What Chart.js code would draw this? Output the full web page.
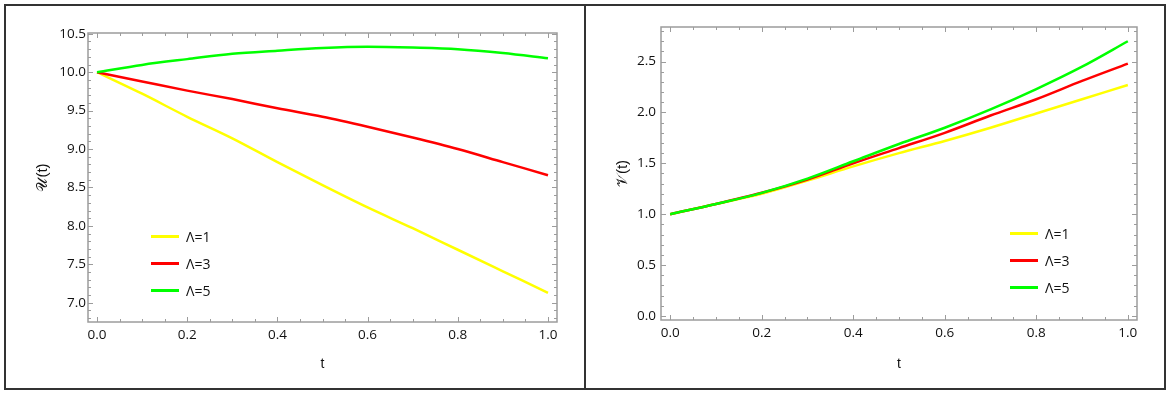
<!DOCTYPE html>
<html lang="en">

<head>
    <meta charset="UTF-8">
    <title>U(t) and V(t) for different Lambda</title>
    <script src="https://cdn.jsdelivr.net/npm/chart.js"></script>
    <style>
        body { margin: 0; background: #fff; font-family: "Open Sans", sans-serif; }
        #page { position: relative; width: 1170px; height: 395px; }
        #box { position: absolute; left: 4px; top: 4px; width: 1162px; height: 386px; border: 2px solid #333; box-sizing: border-box; }
        #divider { position: absolute; left: 584px; top: 4px; width: 2px; height: 386px; background: #333; }
        .panel { position: absolute; top: 6px; width: 578px; height: 382px; }
        .legend { position: absolute; font-size: 14px; color: #111; }
        .legend .row { display: flex; align-items: center; height: 27px; }
        .legend .swatch { width: 28px; height: 3px; margin-right: 7px; }
    </style>
</head>

<body>
    <div id="page">
        <div id="box"></div>
        <div id="divider"></div>
        <div class="panel" style="left:6px"><canvas id="chartU"></canvas></div>
        <div class="panel" style="left:586px"><canvas id="chartV"></canvas></div>
        <div class="legend" id="legendU" style="left:151px; top:223px"></div>
        <div class="legend" id="legendV" style="left:1010px; top:220px"></div>
    </div>

    <script>
        // time samples
        const tValues = [0, 0.1, 0.2, 0.3, 0.4, 0.5, 0.6, 0.7, 0.8, 0.9, 1.0];

        // U(t) for Lambda = 1, 3, 5
        const u1 = [10.0, 9.72, 9.42, 9.14, 8.83, 8.53, 8.24, 7.97, 7.69, 7.41, 7.13];
        const u3 = [10.0, 9.88, 9.76, 9.65, 9.53, 9.42, 9.29, 9.15, 9.00, 8.83, 8.66];
        const u5 = [10.0, 10.095, 10.17, 10.24, 10.28, 10.315, 10.33, 10.32, 10.30, 10.25, 10.18];

        // V(t) for Lambda = 1, 3, 5
        const v1 = [1.0, 1.10, 1.20, 1.33, 1.47, 1.60, 1.72, 1.85, 1.99, 2.13, 2.27];
        const v3 = [1.0, 1.10, 1.21, 1.34, 1.50, 1.65, 1.80, 1.97, 2.13, 2.31, 2.48];
        const v5 = [1.0, 1.10, 1.21, 1.35, 1.52, 1.69, 1.85, 2.03, 2.23, 2.45, 2.70];

        const lambdaLabels = ['Λ=1', 'Λ=3', 'Λ=5'];
        const lineColors = ['#ffff00', '#ff0000', '#00ff00'];

        // tick labels
        const tTicks = [0, 0.2, 0.4, 0.6, 0.8, 1.0];
        const uTicks = [7.0, 7.5, 8.0, 8.5, 9.0, 9.5, 10.0, 10.5];
        const vTicks = [0, 0.5, 1.0, 1.5, 2.0, 2.5];

        const tickFont = { family: '"Open Sans", sans-serif', size: 13.5 };

        function stepsIn(min, max, step) {
            const out = [];
            let i = Math.ceil(min / step - 1e-9);
            while (i * step <= max + 1e-9) {
                out.push(i * step);
                i++;
            }
            return out;
        }

        // Mathematica-like frame with inward ticks on all four sides
        const framePlugin = {
            id: 'frame',
            beforeDatasetsDraw(chart) {
                const { ctx, chartArea: a, scales } = chart;
                const xs = scales.x, ys = scales.y;
                const isMajor = (scale, v) => scale.ticks.some(t => Math.abs(t.value - v) < 1e-6);
                ctx.save();
                ctx.strokeStyle = '#9c9c9c';
                ctx.lineWidth = 1;
                ctx.beginPath();
                stepsIn(xs.min, xs.max, 0.05).forEach(v => {
                    const px = Math.round(xs.getPixelForValue(v)) + 0.5;
                    const len = isMajor(xs, v) ? 5 : 3;
                    ctx.moveTo(px, a.bottom); ctx.lineTo(px, a.bottom - len);
                    ctx.moveTo(px, a.top); ctx.lineTo(px, a.top + len);
                });
                stepsIn(ys.min, ys.max, 0.1).forEach(v => {
                    const py = Math.round(ys.getPixelForValue(v)) + 0.5;
                    const len = isMajor(ys, v) ? 5 : 3;
                    ctx.moveTo(a.left, py); ctx.lineTo(a.left + len, py);
                    ctx.moveTo(a.right, py); ctx.lineTo(a.right - len, py);
                });
                ctx.stroke();
                ctx.lineWidth = 1.5;
                ctx.strokeRect(a.left, a.top, a.right - a.left, a.bottom - a.top);
                ctx.restore();
            }
        };

        function makeChart(canvasId, legendId, series, cfg) {
            const datasets = series.map((vals, i) => ({
                label: lambdaLabels[i],
                data: tValues.map((t, k) => ({ x: t, y: vals[k] })),
                borderColor: lineColors[i],
                borderWidth: 2.5,
                pointRadius: 0,
                tension: 0.4,
                cubicInterpolationMode: 'monotone',
                order: series.length - i
            }));

            const chart = new Chart(document.getElementById(canvasId), {
                type: 'line',
                data: { datasets },
                options: {
                    responsive: true,
                    maintainAspectRatio: false,
                    animation: false,
                    layout: { padding: { left: 0, top: cfg.padTop, right: cfg.padRight, bottom: 0 } },
                    plugins: { legend: { display: false }, tooltip: { enabled: false } },
                    scales: {
                        x: {
                            type: 'linear',
                            min: -0.02,
                            max: 1.02,
                            afterBuildTicks: s => { s.ticks = tTicks.map(v => ({ value: v })); },
                            afterFit: s => { s.height = cfg.axisH; },
                            grid: { display: false, drawTicks: false },
                            border: { display: false },
                            ticks: { color: '#111', font: tickFont, padding: 5, callback: v => v.toFixed(1) },
                            title: { display: true, text: 't', color: '#111', font: { size: 14 }, padding: { top: 0, bottom: 15 } }
                        },
                        y: {
                            min: cfg.yMin,
                            max: cfg.yMax,
                            afterBuildTicks: s => { s.ticks = cfg.yTicks.map(v => ({ value: v })); },
                            afterFit: s => { s.width = cfg.axisW; },
                            grid: { display: false, drawTicks: false },
                            border: { display: false },
                            ticks: { color: '#111', font: tickFont, padding: cfg.yLabelPad, callback: v => v.toFixed(1) },
                            title: { display: true, text: cfg.yTitle, color: '#111', font: { size: 15 }, padding: { top: 28, bottom: 0 } }
                        }
                    }
                },
                plugins: [framePlugin]
            });

            // legend built from the datasets
            const legend = document.getElementById(legendId);
            chart.data.datasets.forEach(ds => {
                const row = document.createElement('div');
                row.className = 'row';
                row.innerHTML = '<span class="swatch" style="background:' + ds.borderColor + '"></span><span>' + ds.label + '</span>';
                legend.appendChild(row);
            });
            return chart;
        }

        makeChart('chartU', 'legendU', [u1, u3, u5], {
            yTicks: uTicks, yMin: 6.75, yMax: 10.51, yTitle: '𝒰(t)',
            axisW: 82, axisH: 66, padTop: 27, padRight: 27, yLabelPad: 2
        });

        makeChart('chartV', 'legendV', [v1, v3, v5], {
            yTicks: vTicks, yMin: -0.04, yMax: 2.84, yTitle: '𝒱(t)',
            axisW: 75, axisH: 68, padTop: 21, padRight: 27, yLabelPad: 5
        });
    </script>
</body>

</html>
